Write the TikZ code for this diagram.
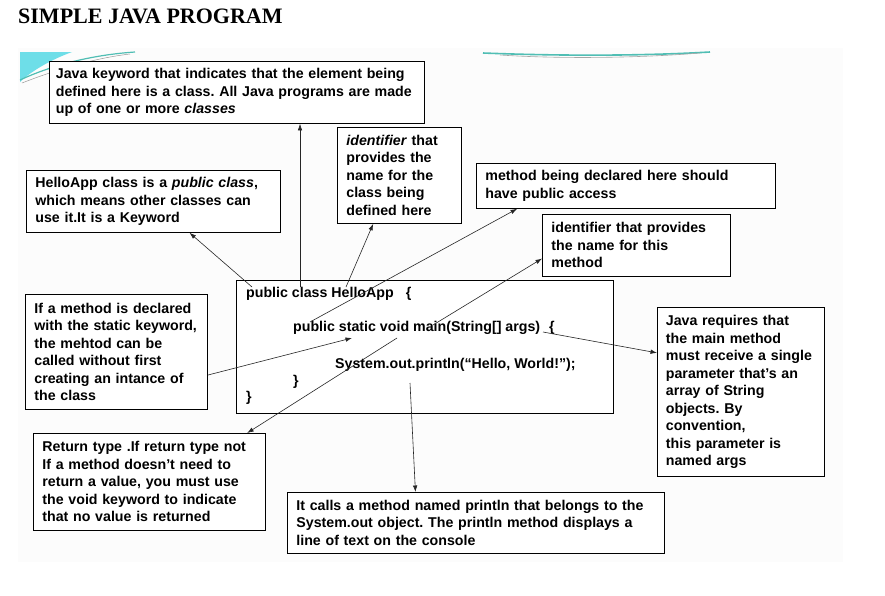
\documentclass[tikz,border=0pt]{standalone}
\usepackage{fontspec}
\setmainfont{Liberation Sans}
\newfontfamily\titlefont{Liberation Serif}
\usetikzlibrary{arrows.meta,calc}
\definecolor{swoosh}{RGB}{110,222,232}
\definecolor{tealline}{RGB}{80,190,180}
\frenchspacing
\begin{document}
\begin{tikzpicture}[x=1pt,y=-1pt,
  txt/.style={font=\bfseries\fontsize{14.2}{17.5}\selectfont},
  note/.style={txt, draw=black, line width=0.8pt, fill=white, inner sep=0pt,
    anchor=north west, align=left},
  codeline/.style={txt, inner sep=0pt, anchor=base west},
  conn/.style={-{Latex[length=6.5pt,width=4.5pt]}, line width=0.6pt, black!85}
]
\useasboundingbox (0,0) rectangle (885,595);
% slide background
\fill[black!1] (18,48) rectangle (843,562);
% decorations
\fill[swoosh] (20,52) -- (72,52) .. controls (50,60) and (30,72) .. (20,82) -- cycle;
\draw[tealline, line width=1.2pt] (20,80) .. controls (50,66) and (90,55) .. (135,52);
\draw[black!40, line width=0.5pt] (22,83) .. controls (55,70) and (95,58) .. (130,54);
\draw[tealline, line width=1.6pt] (483,53) .. controls (560,56) and (640,56) .. (710,52);
\draw[black!35, line width=0.6pt] (500,55) .. controls (560,59) and (640,58) .. (700,53);

% title
\node[inner sep=0pt, anchor=base west, font=\titlefont\bfseries\fontsize{22}{24}\selectfont] (title) at (18,23.3) {SIMPLE JAVA PROGRAM};

% notes
\node[note, minimum width=375pt, minimum height=62pt, text width=362pt] (boxA) at (49,61)
 {Java keyword that indicates that the element being\\defined here is a class. All Java programs are made\\up of one or more \textit{classes}};
\node[note, minimum width=124pt, minimum height=96pt, text width=106pt] (boxB) at (337,127)
 {\textit{identifier} that\\provides the\\name for the\\class being\\defined here};
\node[note, minimum width=299pt, minimum height=45pt, text width=281pt] (boxC) at (476,163)
 {method being declared here should\\have public access};
\node[note, minimum width=188pt, minimum height=62pt, text width=170pt] (boxD) at (542,214)
 {identifier that provides\\the name for this\\method};
\node[note, minimum width=254pt, minimum height=62pt, text width=236pt] (boxE) at (26,170)
 {HelloApp class is a \textit{public class},\\which means other classes can\\use it.It is a Keyword};
\node[note, minimum width=182pt, minimum height=115pt, text width=164pt] (boxF) at (25,294)
 {If a method is declared\\with the static keyword,\\the mehtod can be\\called without first\\creating an intance of\\the class};
\node[note, minimum width=167pt, minimum height=169pt, text width=150pt] (boxG) at (657,307)
 {Java requires that\\the main method\\must receive a single\\parameter that's an\\array of String\\objects. By\\convention,\\this parameter is\\named args};
\node[note, minimum width=232pt, minimum height=97pt, text width=214pt] (boxH) at (33,433)
 {Return type .If return type not\\If a method doesn't need to\\return a value, you must use\\the void keyword to indicate\\that no value is returned};
\node[note, minimum width=377pt, minimum height=61pt, text width=359pt] (boxI) at (287,492)
 {It calls a method named println that belongs to the\\System.out object. The println method displays a\\line of text on the console};

% code box
\node[draw=black, line width=0.8pt, fill=white, anchor=north west, minimum width=377pt, minimum height=133pt, inner sep=0pt] (code) at (236,280) {};
\node[codeline] (l1) at (246,297.7) {public class HelloApp\hspace{12pt}\{};
\node[codeline] (l2) at (293,331.7) {public static void main(String[] args)\hspace{9pt}\{};
\node[codeline] (l3) at (335,368) {System.out.println(“Hello, World!”);};
\node[codeline] (l4) at (293,385.5) {\}};
\node[codeline] (l5) at (246,401.5) {\}};

% anchor points in the code
\coordinate (c1) at (252,287);
\coordinate (c2) at (300,287);
\coordinate (c3) at (346,287);
\coordinate (c4) at (310,322);
\coordinate (c5) at (433,325);
\coordinate (c6) at (543,332);
\coordinate (c7) at (352,338);
\coordinate (c8) at (397,338);
\coordinate (c9) at (410,383);

% connectors
\draw[conn] (c1) -- (boxE);
\draw[conn] (c2) -- (c2 |- boxA.south);
\draw[conn] (c3) -- ($(boxB.south west)!0.29!(boxB.south east)$);
\draw[conn] (c4) -- ($(boxC.south west)!0.137!(boxC.south east)$);
\draw[conn] (c5) -- ($(boxD.north west)!0.71!(boxD.south west)$);
\draw[conn] (c6) -- ($(boxG.north west)!0.27!(boxG.south west)$);
\draw[conn] ($(boxF.north east)!0.7!(boxF.south east)$) -- (c7);
\draw[conn] (c8) -- ($(boxH.north west)!0.92!(boxH.north east)$);
\draw[conn] (c9) -- ($(boxI.north west)!0.34!(boxI.north east)$);
\end{tikzpicture}
\end{document}
